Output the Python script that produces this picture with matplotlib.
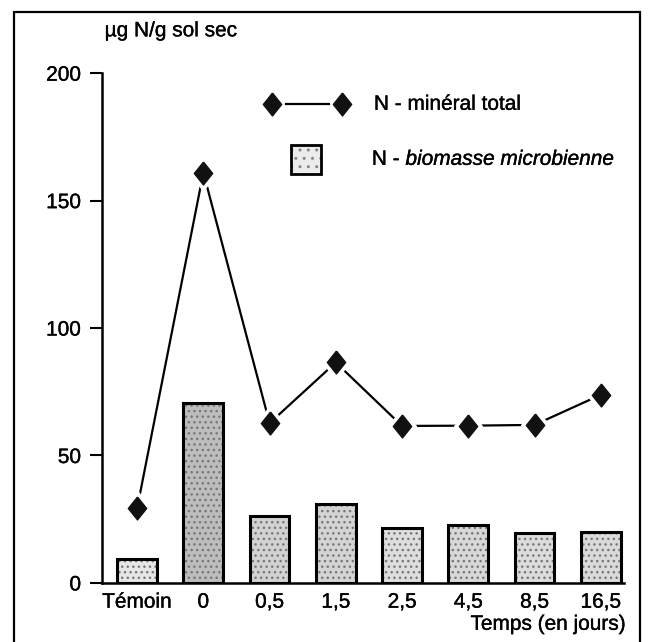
import matplotlib
matplotlib.use("Agg")
import matplotlib.pyplot as plt
import matplotlib.patheffects as pe
from matplotlib.patches import Rectangle
import numpy as np

categories = ["Témoin", "0", "0,5", "1,5", "2,5", "4,5", "8,5", "16,5"]
biomasse = [9.5, 70.5, 26.3, 30.8, 21.5, 22.8, 19.6, 19.9]
mineral = [29.3, 161, 62.7, 86.5, 61.6, 61.7, 62.0, 73.8]
yticks = [0, 50, 100, 150, 200]

plt.rcParams['font.family'] = ['Liberation Sans', 'DejaVu Sans']
heavy = [pe.withStroke(linewidth=0.25, foreground='black')]

fig = plt.figure(figsize=(6.54, 6.42), dpi=100)
ax = fig.add_axes([0.156, 0.092, 0.798, 0.794])

x = np.arange(len(categories))
faces = ['#e6e6e6', '#bdbdbd', '#d2d2d2', '#d4d4d4', '#dedede', '#d8d8d8', '#dcdcdc', '#dadada']
ax.bar(x, biomasse, width=0.6, color=faces, edgecolor='#777777', linewidth=0, hatch='...', zorder=2)
ax.bar(x, biomasse, width=0.6, facecolor='none', edgecolor='black', linewidth=2.2, zorder=3)

diamond = [(0, 1), (0.8, 0), (0, -1), (-0.8, 0), (0, 1)]
ax.plot(x, mineral, color='black', linewidth=1.6, zorder=4)
ax.plot(x, mineral, linestyle='none', marker=diamond, markersize=25, color='white', zorder=5)
ax.plot(x, mineral, linestyle='none', marker=diamond, markersize=16.5, color='#111111', zorder=6)

ax.set_xlim(-0.53, 7.35)
ax.set_ylim(0, 200)
ax.set_yticks(yticks)
ax.set_yticklabels([str(v) for v in yticks], fontsize=15)
ax.set_xticks(x)
ax.set_xticklabels(categories, fontsize=15)
for lab in ax.get_xticklabels() + ax.get_yticklabels():
    lab.set_path_effects(heavy)
ax.tick_params(axis='y', length=9, width=1.5, pad=6, direction='out')
ax.tick_params(axis='x', length=0, pad=7)
for s in ['top', 'right']:
    ax.spines[s].set_visible(False)
ax.spines['left'].set_linewidth(1.8)
ax.spines['bottom'].set_linewidth(1.8)
ax.patch.set_visible(False)

# legend drawn manually
tr = ax.transAxes
ax.plot([0.352, 0.434], [0.939, 0.939], transform=tr, color='black', linewidth=1.6, clip_on=False, zorder=7)
ax.plot([0.326, 0.460], [0.939, 0.939], transform=tr, linestyle='none', marker=diamond,
        markersize=16.5, color='#111111', clip_on=False, zorder=8)
ax.text(0.521, 0.939, "N - minéral total", transform=tr, fontsize=15, va='center', ha='left',
        path_effects=heavy)
ax.add_patch(Rectangle((0.363, 0.803), 0.056, 0.056, transform=tr, facecolor='#ececec',
                       edgecolor='#888888', hatch='..', linewidth=0, clip_on=False, zorder=7))
ax.add_patch(Rectangle((0.363, 0.803), 0.056, 0.056, transform=tr, facecolor='none',
                       edgecolor='black', linewidth=2.0, clip_on=False, zorder=8))
t1 = ax.text(0.517, 0.831, "N - ", transform=tr, fontsize=15, va='center', ha='left',
             path_effects=heavy)
ax.annotate("biomasse microbienne", xycoords=t1, xy=(1, 0.5), va='center', ha='left',
            fontsize=15, fontstyle='italic', path_effects=heavy)

fig.text(0.16, 0.952, "µg N/g sol sec", fontsize=15, ha='left', va='center', path_effects=heavy)
fig.text(0.957, 0.019, "Temps (en jours)", fontsize=15, ha='right', va='baseline', path_effects=heavy)

fig.patches.append(Rectangle((0.0214, -0.02), 0.9572, 1.001, transform=fig.transFigure,
                             facecolor='none', edgecolor='black', linewidth=1.6))

fig.savefig("out.png", dpi=100)
